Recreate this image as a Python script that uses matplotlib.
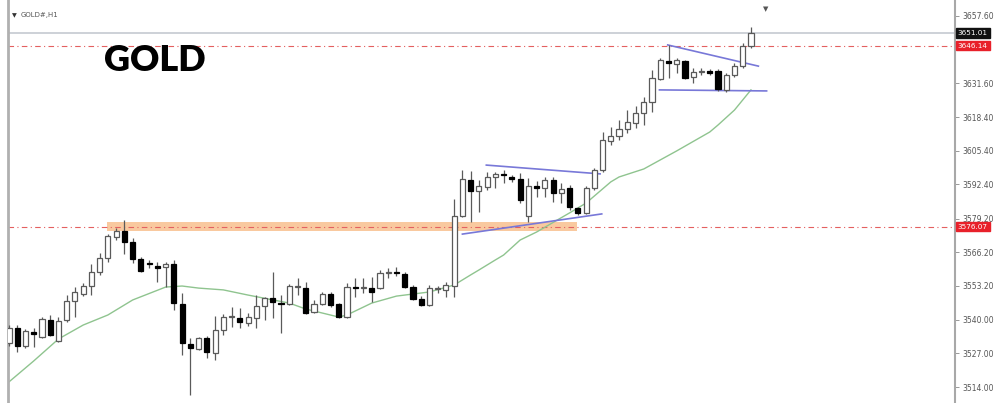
import matplotlib
matplotlib.use("Agg")
import matplotlib.pyplot as plt
from matplotlib.transforms import blended_transform_factory
import numpy as np

# ---------------- data ----------------
opens = [3531.1, 3536.9, 3529.9, 3535.3, 3533.4, 3540.0, 3531.8, 3540.0, 3547.3, 3550.0,
         3553.1, 3558.5, 3563.9, 3572.1, 3574.4, 3570.1, 3563.6, 3561.7, 3560.9, 3560.5,
         3561.6, 3546.1, 3530.7, 3528.7, 3533.0, 3527.2, 3536.1, 3541.1, 3540.7, 3538.8,
         3540.7, 3545.4, 3548.5, 3546.5, 3546.1, 3552.7, 3552.3, 3543.1, 3546.1, 3550.0,
         3546.1, 3541.1, 3552.5, 3552.3, 3552.3, 3552.3, 3558.1, 3558.3, 3557.8, 3552.7,
         3548.1, 3545.8, 3552.0, 3551.6, 3553.1, 3580.2, 3594.1, 3589.9, 3591.4, 3595.3,
         3596.1, 3595.3, 3594.5, 3580.2, 3591.8, 3591.0, 3594.1, 3589.1, 3591.0, 3583.3,
         3581.4, 3591.0, 3598.0, 3609.2, 3611.2, 3613.9, 3616.2, 3620.1, 3624.3, 3633.2,
         3640.2, 3639.0, 3640.2, 3634.0, 3635.9, 3636.3, 3636.3, 3629.0, 3634.8, 3638.2,
         3646.0]
closes = [3536.9, 3529.9, 3535.7, 3534.5, 3540.3, 3534.1, 3539.6, 3547.3, 3550.8, 3553.1,
          3558.5, 3563.9, 3572.5, 3574.4, 3570.1, 3563.6, 3558.9, 3561.5, 3560.1, 3561.6,
          3546.5, 3531.1, 3529.1, 3533.0, 3527.6, 3536.1, 3541.1, 3541.3, 3539.2, 3541.1,
          3545.4, 3548.5, 3546.9, 3546.1, 3553.1, 3552.9, 3542.7, 3546.1, 3550.0, 3545.8,
          3541.1, 3552.7, 3552.3, 3552.5, 3550.8, 3558.1, 3558.3, 3558.1, 3552.7, 3548.1,
          3545.8, 3552.3, 3552.1, 3553.5, 3580.2, 3594.5, 3589.9, 3591.8, 3595.3, 3596.5,
          3596.0, 3594.5, 3586.4, 3591.8, 3591.0, 3594.1, 3589.1, 3590.6, 3583.7, 3581.4,
          3591.0, 3598.0, 3609.6, 3611.2, 3613.9, 3616.6, 3620.1, 3624.3, 3633.6, 3640.6,
          3639.4, 3640.6, 3633.6, 3635.9, 3636.1, 3635.5, 3629.3, 3634.8, 3638.2, 3646.0,
          3651.0]
highs = [3538.0, 3538.0, 3536.5, 3536.9, 3541.1, 3541.9, 3541.1, 3549.6, 3552.7, 3554.3,
         3561.6, 3565.9, 3573.2, 3575.6, 3578.7, 3571.7, 3564.3, 3563.2, 3562.4, 3562.4,
         3563.2, 3550.4, 3533.0, 3533.4, 3533.7, 3541.5, 3542.3, 3545.0, 3544.6, 3542.7,
         3549.6, 3548.9, 3558.5, 3549.6, 3553.9, 3556.2, 3554.7, 3547.7, 3550.8, 3550.8,
         3546.5, 3554.3, 3556.2, 3556.2, 3556.6, 3559.3, 3560.1, 3560.5, 3558.5, 3553.5,
         3549.3, 3553.5, 3553.1, 3554.7, 3586.8, 3598.0, 3597.6, 3594.1, 3597.2, 3597.2,
         3598.0, 3596.1, 3596.8, 3594.9, 3593.7, 3595.3, 3595.3, 3593.0, 3592.2, 3583.7,
         3591.8, 3598.8, 3612.7, 3614.6, 3617.4, 3621.2, 3622.8, 3626.3, 3636.7, 3641.3,
         3646.4, 3641.3, 3640.6, 3637.5, 3637.5, 3637.1, 3637.1, 3635.5, 3639.4, 3647.1,
         3653.3]
lows = [3529.9, 3527.6, 3529.1, 3529.5, 3533.0, 3533.7, 3531.4, 3539.2, 3541.1, 3549.3,
        3549.6, 3557.4, 3562.4, 3570.9, 3565.5, 3562.0, 3558.5, 3560.1, 3554.7, 3552.7,
        3543.8, 3526.4, 3510.9, 3528.3, 3525.2, 3524.5, 3534.1, 3537.2, 3536.9, 3537.6,
        3536.9, 3540.0, 3540.7, 3534.9, 3545.8, 3549.6, 3542.3, 3542.7, 3545.8, 3545.0,
        3540.7, 3540.7, 3548.9, 3550.4, 3546.9, 3552.0, 3556.2, 3556.9, 3552.3, 3547.7,
        3545.4, 3545.4, 3550.4, 3548.9, 3548.9, 3579.8, 3577.9, 3581.7, 3590.3, 3591.0,
        3593.0, 3593.4, 3585.2, 3577.9, 3587.6, 3587.6, 3585.6, 3585.2, 3582.5, 3580.6,
        3581.0, 3590.3, 3597.2, 3607.7, 3609.6, 3612.3, 3614.3, 3615.4, 3620.4, 3632.8,
        3633.6, 3635.5, 3633.2, 3631.7, 3634.8, 3634.8, 3628.6, 3628.2, 3634.0, 3637.5,
        3645.2]

# moving average (read at selected bars)
ma_idx = [0, 3, 6, 9, 12, 15, 19, 21, 23, 26, 29, 34, 36, 40, 41, 44, 47, 51, 54, 56,
          57, 59, 60, 62, 64, 68, 70, 73, 74, 77, 81, 85, 86, 88, 89, 90]
ma_val = [3516.0, 3524.1, 3532.6, 3538.0, 3541.9, 3547.7, 3552.7, 3553.1, 3552.3, 3551.6,
          3549.6, 3546.5, 3544.2, 3541.1, 3541.9, 3546.5, 3549.2, 3550.8, 3553.5, 3557.4,
          3559.3, 3563.2, 3565.1, 3570.9, 3574.0, 3581.4, 3585.2, 3593.4, 3595.3, 3598.4,
          3605.4, 3612.7, 3615.4, 3621.2, 3625.1, 3629.0]

# trend lines: (bar index, price) endpoints
trend_lines = [
    ([57.9, 71.7], [3599.9, 3596.5]),
    ([55.0, 71.9], [3573.2, 3581.0]),
    ([79.9, 90.9], [3646.4, 3638.2]),
    ([78.9, 91.9], [3629.0, 3628.6]),
]
zone_bars = [11.9, 68.9]
zone_prices = [3574.4, 3577.9]

red_levels = [3646.14, 3576.07]
last_price = 3651.01
tick_values = [3657.60, 3631.60, 3618.40, 3605.40, 3592.40, 3579.20,
               3566.20, 3553.20, 3540.00, 3527.00, 3514.00]
symbol_label = "GOLD#,H1"
title = "GOLD"

# ---------------- figure ----------------
fig = plt.figure(figsize=(10, 4.03), dpi=100)
ax = fig.add_axes([0.008, 0.0, 0.947, 1.0])
ax.set_facecolor("white")

n = len(opens)
idx = np.arange(n)
o = np.array(opens); c = np.array(closes); h = np.array(highs); l = np.array(lows)

# zone
ax.fill_between(zone_bars, zone_prices[0], zone_prices[1], color="#f9c99f", lw=0, zorder=1)

# level lines
ax.axhline(last_price, color="#c9ced4", lw=1.3, zorder=1)
for lv in red_levels:
    ax.axhline(lv, color="#e46060", lw=0.8, ls=(0, (5, 3, 1, 3)), zorder=1.5)

# MA
ax.plot(ma_idx, ma_val, color="#8fc48f", lw=1.0, zorder=2)

# trend lines
for xs, ys in trend_lines:
    ax.plot(xs, ys, color="#7878d8", lw=1.2, zorder=2.5)

# wicks
ax.vlines(idx, l, h, color="#5a5a5a", lw=0.9, zorder=3)
# bodies
up = c >= o
bottoms = np.minimum(o, c)
heights = np.maximum(np.abs(c - o), 0.5)
ax.bar(idx[up], heights[up], bottom=bottoms[up], width=0.62, facecolor="white",
       edgecolor="#5a5a5a", linewidth=0.9, zorder=4)
ax.bar(idx[~up], heights[~up], bottom=bottoms[~up], width=0.62, facecolor="black",
       edgecolor="black", linewidth=0.9, zorder=4)

ax.set_xlim(-0.12, 114.75)
ax.set_ylim(3507.83, 3663.79)

# axes styling
for s in ["top", "bottom"]:
    ax.spines[s].set_visible(False)
ax.spines["left"].set_color("#b0b0b0")
ax.spines["left"].set_linewidth(2.0)
ax.spines["right"].set_color("#a8a8a8")
ax.spines["right"].set_linewidth(1.5)
ax.set_xticks([])
ax.yaxis.tick_right()
ax.set_yticks(tick_values)
ax.set_yticklabels([f"{v:.2f}" for v in tick_values])
ax.tick_params(axis="y", labelsize=5.5, labelcolor="#555555", color="#888888",
               length=3, width=0.6, pad=2)

# price boxes on the right axis
tr = blended_transform_factory(ax.transAxes, ax.transData)
ax.text(1.003, last_price, f"{last_price:.2f}", transform=tr, fontsize=5.2, color="white",
        va="center", ha="left", clip_on=False,
        bbox=dict(boxstyle="square,pad=0.25", fc="#111111", ec="#111111"), zorder=10)
for lv in red_levels:
    ax.text(1.003, lv, f"{lv:.2f}", transform=tr, fontsize=5.2, color="white",
            va="center", ha="left", clip_on=False,
            bbox=dict(boxstyle="square,pad=0.25", fc="#e8202a", ec="#e8202a"), zorder=10)

# labels
fig.text(0.012, 0.962, "▼", fontsize=4.5, color="#333333", va="center", ha="left")
fig.text(0.021, 0.962, symbol_label, fontsize=5, color="#555555", va="center", ha="left")
fig.text(0.766, 0.978, "▼", fontsize=5, color="#555555", va="center", ha="center")
fig.text(0.104, 0.85, title, fontsize=26, fontweight="heavy", family="Lato",
         color="black", va="center", ha="left")

fig.savefig("out.png", dpi=100, facecolor="white")
